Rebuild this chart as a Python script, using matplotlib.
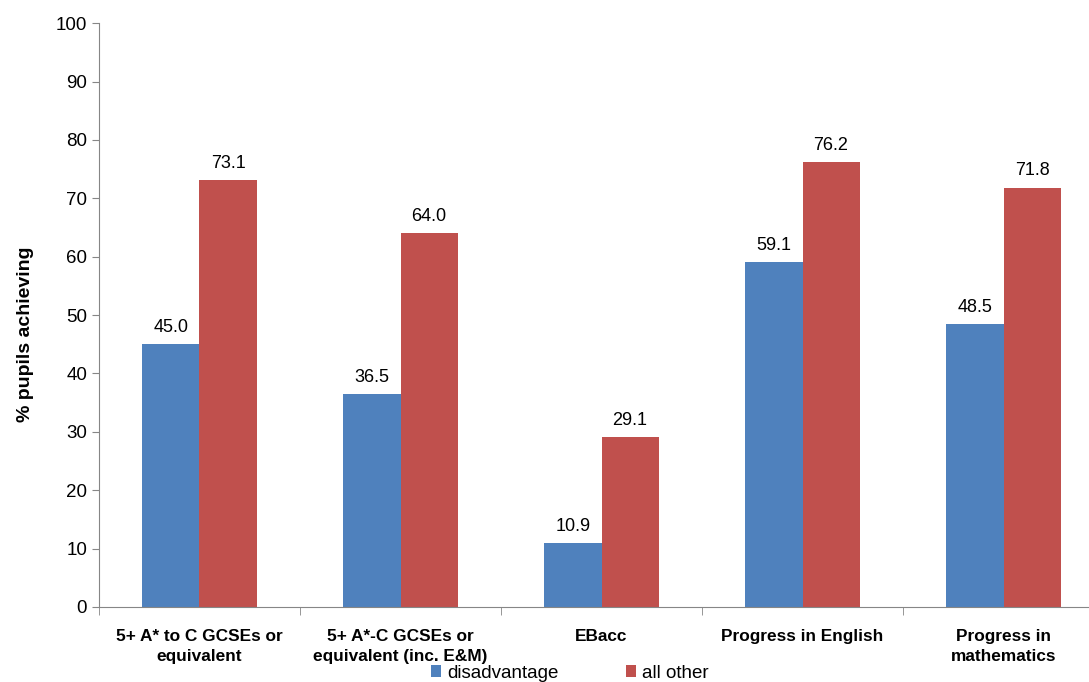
import matplotlib.pyplot as plt
import numpy as np

plt.rcParams['font.family'] = ['Liberation Sans', 'DejaVu Sans']

categories = ["5+ A* to C GCSEs or\nequivalent",
              "5+ A*-C GCSEs or\nequivalent (inc. E&M)",
              "EBacc",
              "Progress in English",
              "Progress in\nmathematics"]
disadvantage = [45.0, 36.5, 10.9, 59.1, 48.5]
all_other = [73.1, 64.0, 29.1, 76.2, 71.8]

blue = "#4F81BD"
red = "#C0504D"
grey = "#868686"

fig = plt.figure(figsize=(10.89, 6.82), dpi=100)
# the original chart is cropped on the right, so the axes run past the edge
ax = fig.add_axes([0.0909, 0.11, 0.9229, 0.856])

x = np.arange(len(categories))
w = 0.284
b1 = ax.bar(x - w / 2, disadvantage, w, color=blue, label="disadvantage")
b2 = ax.bar(x + w / 2, all_other, w, color=red, label="all other")

for bars, vals in ((b1, disadvantage), (b2, all_other)):
    for rect, v in zip(bars, vals):
        ax.annotate(f"{v:.1f}", (rect.get_x() + rect.get_width() / 2, v),
                    xytext=(0, 6), textcoords="offset points",
                    ha="center", va="bottom", fontsize=13)

ax.set_xlim(-0.5, len(categories) - 0.5)
ax.set_ylim(0, 100)
ax.set_yticks(range(0, 101, 10))
ax.tick_params(axis="y", labelsize=13.5, color=grey, length=5, direction="out")

ax.set_xticks(x)
ax.set_xticklabels(categories, fontsize=12.4, fontweight="bold", linespacing=1.4)
ax.tick_params(axis="x", length=0, pad=16)
ax.set_xticks(np.arange(-0.5, len(categories)), minor=True)
ax.tick_params(axis="x", which="minor", length=6, color=grey)

for s in ["top", "right"]:
    ax.spines[s].set_visible(False)
for s in ["left", "bottom"]:
    ax.spines[s].set_color(grey)

ax.set_ylabel("% pupils achieving", fontsize=14, fontweight="bold")
ax.yaxis.set_label_coords(-0.065, 0.467)

fig.legend(handles=[b1, b2], loc="center", bbox_to_anchor=(0.523, 0.013),
           ncol=2, frameon=False, fontsize=13.5, handlelength=0.55,
           handleheight=0.55, columnspacing=3.6, handletextpad=0.3)

fig.savefig("out.png", dpi=100)
